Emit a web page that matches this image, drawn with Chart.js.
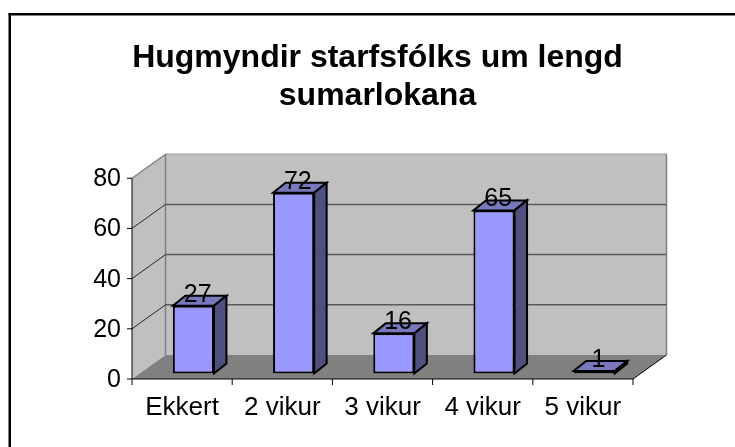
<!DOCTYPE html>
<html>
<head>
<meta charset="utf-8">
<style>
html, body { margin: 0; padding: 0; background: #fff; }
#wrap { width: 735px; height: 447px; }
</style>
<script src="https://cdn.jsdelivr.net/npm/chart.js@4/dist/chart.umd.min.js"></script>
</head>
<body>
<div id="wrap"><canvas id="chart" width="735" height="447"></canvas></div>
<script>
const categories = ['Ekkert', '2 vikur', '3 vikur', '4 vikur', '5 vikur'];
const values = [27, 72, 16, 65, 1];
const titleLines = ['Hugmyndir starfsfólks um lengd', 'sumarlokana'];

const fontFamily = '"Liberation Sans", Arial, sans-serif';

// Depth of the fake 3D box, and of the bars standing in it
const wallDx = 33.5, wallDy = -24;
const barShiftX = 11.3, barShiftY = -5.5;
const barDepthX = 12.5, barDepthY = -10;

function poly(ctx, pts, fill, stroke, lineWidth) {
    ctx.beginPath();
    pts.forEach((p, i) => i ? ctx.lineTo(p[0], p[1]) : ctx.moveTo(p[0], p[1]));
    ctx.closePath();
    if (fill) { ctx.fillStyle = fill; ctx.fill(); }
    if (stroke) { ctx.strokeStyle = stroke; ctx.lineWidth = lineWidth; ctx.stroke(); }
}

function line(ctx, x1, y1, x2, y2, color, width) {
    ctx.beginPath();
    ctx.moveTo(x1, y1);
    ctx.lineTo(x2, y2);
    ctx.strokeStyle = color;
    ctx.lineWidth = width;
    ctx.stroke();
}

const frame = {
    id: 'frame',
    beforeDraw(chart) {
        const ctx = chart.ctx;
        ctx.save();
        ctx.fillStyle = '#000';
        ctx.fillRect(8.5, 13, 2.5, 434);
        ctx.fillRect(8.5, 13, 726.5, 2.5);
        ctx.restore();
    }
};

// Walls, floor and gridlines, all placed from the scales
const box = {
    id: 'box',
    beforeDatasetsDraw(chart) {
        const ctx = chart.ctx, y = chart.scales.y;
        const l = chart.chartArea.left, r = chart.chartArea.right;
        const b = y.getPixelForValue(0), t = y.getPixelForValue(80);
        ctx.save();
        poly(ctx, [[l, b], [l + wallDx, b + wallDy], [l + wallDx, t + wallDy], [l, t]], '#c0c0c0');
        poly(ctx, [[l + wallDx, b + wallDy], [r + wallDx, b + wallDy], [r + wallDx, t + wallDy], [l + wallDx, t + wallDy]], '#c0c0c0');
        poly(ctx, [[l, b], [r, b], [r + wallDx, b + wallDy], [l + wallDx, b + wallDy]], '#808080');
        // wall edges
        line(ctx, l, t, l + wallDx, t + wallDy, '#808080', 1.5);
        line(ctx, l + wallDx, t + wallDy, r + wallDx, t + wallDy, '#a8a8a8', 1.5);
        line(ctx, l + wallDx, t + wallDy, l + wallDx, b + wallDy, '#808080', 1.5);
        line(ctx, r + wallDx, t + wallDy, r + wallDx, b + wallDy, '#808080', 1.5);
        // gridlines
        y.ticks.forEach(tick => {
            if (tick.value === 0 || tick.value === 80) return;
            const py = y.getPixelForValue(tick.value);
            line(ctx, l + wallDx, py + wallDy, r + wallDx, py + wallDy, '#5a5a5a', 1.5);
            line(ctx, l, py, l + wallDx, py + wallDy, '#000000', 0.8);
        });
        line(ctx, r, b, r + wallDx, b + wallDy, '#000000', 1);
        ctx.restore();
    },
    beforeDatasetDraw(chart) {
        const ctx = chart.ctx;
        ctx.save();
        ctx.translate(barShiftX, barShiftY);
        chart.getDatasetMeta(0).data.forEach(bar => {
            const p = bar.getProps(['x', 'y', 'base', 'width'], true);
            const x1 = p.x - p.width / 2, x2 = p.x + p.width / 2;
            poly(ctx, [[x1, p.y], [x1 + barDepthX, p.y + barDepthY], [x2 + barDepthX, p.y + barDepthY], [x2, p.y]], '#7878bc', '#000', 2);
            poly(ctx, [[x2, p.y], [x2 + barDepthX, p.y + barDepthY], [x2 + barDepthX, p.base + barDepthY], [x2, p.base]], '#4f4f80', '#000', 2);
        });
    },
    afterDatasetDraw(chart) {
        chart.ctx.restore();
    },
    afterDatasetsDraw(chart) {
        const ctx = chart.ctx;
        ctx.save();
        ctx.fillStyle = '#000';
        ctx.font = '25px ' + fontFamily;
        ctx.textAlign = 'center';
        ctx.textBaseline = 'middle';
        chart.getDatasetMeta(0).data.forEach((bar, i) => {
            const p = bar.getProps(['x', 'y'], true);
            ctx.fillText(String(values[i]), p.x + barShiftX + barDepthX / 2 - 2, p.y + barShiftY + barDepthY - 1);
        });
        ctx.restore();
    }
};

new Chart(document.getElementById('chart'), {
    type: 'bar',
    data: {
        labels: categories,
        datasets: [{
            data: values,
            backgroundColor: '#9999ff',
            borderColor: '#000000',
            borderWidth: 2,
            borderSkipped: false,
            barPercentage: 0.41,
            categoryPercentage: 1
        }]
    },
    options: {
        responsive: false,
        animation: false,
        // left padding pulls the title's centre over to where the reference has it
        layout: { padding: { top: 0, right: 0, bottom: 0, left: 20 } },
        plugins: {
            legend: { display: false },
            tooltip: { enabled: false },
            title: {
                display: true,
                text: titleLines,
                color: '#000000',
                font: { family: fontFamily, size: 32, weight: 'bold', lineHeight: 1.16 },
                padding: { top: 40, bottom: 64 }
            }
        },
        scales: {
            x: {
                grid: { display: false, drawTicks: false },
                border: { display: false },
                ticks: { color: '#000000', font: { family: fontFamily, size: 26 }, padding: 13, maxRotation: 0 },
                afterFit(scale) { scale.height = 447 - 379; }
            },
            y: {
                min: 0,
                max: 80,
                grid: { display: false, drawTicks: false },
                border: { display: false },
                ticks: { stepSize: 20, color: '#000000', font: { family: fontFamily, size: 25 }, padding: 11, labelOffset: 1 },
                afterFit(scale) { scale.width = 112; }
            },
            // empty axis that only reserves the room taken by the depth on the right
            spacer: {
                position: 'right',
                grid: { display: false, drawTicks: false },
                border: { display: false },
                ticks: { display: false },
                afterFit(scale) { scale.width = 102; }
            }
        }
    },
    plugins: [frame, box, {
        id: 'axes',
        afterDraw(chart) {
            const ctx = chart.ctx, a = chart.chartArea, xs = chart.scales.x, ys = chart.scales.y;
            ctx.save();
            line(ctx, a.left, ys.getPixelForValue(80), a.left, a.bottom, '#000', 1);
            line(ctx, a.left, a.bottom, a.right, a.bottom, '#000', 1);
            ys.ticks.forEach(t => {
                const py = ys.getPixelForValue(t.value);
                line(ctx, a.left - 5, py, a.left, py, '#000', 1);
            });
            const step = xs.width / categories.length;
            for (let i = 0; i <= categories.length; i++) {
                line(ctx, a.left + i * step, a.bottom, a.left + i * step, a.bottom + 6, '#000', 1);
            }
            ctx.restore();
        }
    }]
});
</script>
</body>
</html>
